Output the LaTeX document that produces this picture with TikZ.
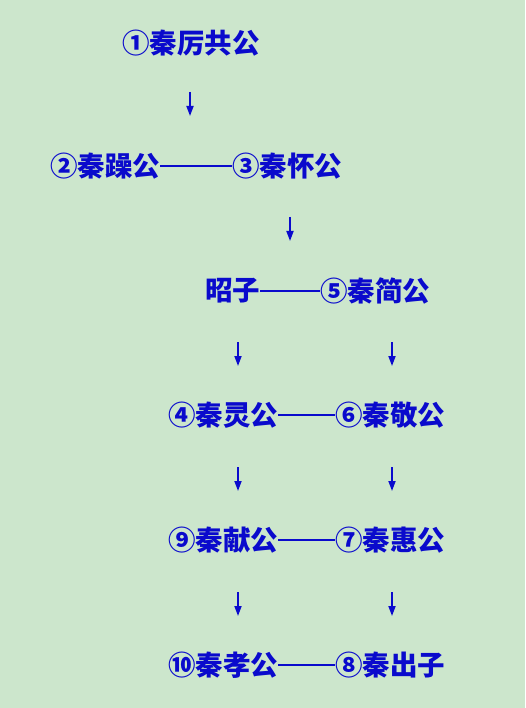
\documentclass[tikz,border=0pt]{standalone}
\usepackage{fontspec}
\newfontfamily\cjk{Noto Sans CJK SC}
\usetikzlibrary{arrows.meta}
\definecolor{bgg}{HTML}{CCE6CC}
\definecolor{tblue}{HTML}{0A0ACC}
\tikzset{
  person/.style={anchor=west,inner sep=0pt,text=tblue,font=\cjk\bfseries\fontsize{27.5}{27.5}\selectfont},
  link/.style={draw=tblue,line width=1.3pt},
  arr/.style={draw=tblue,line width=1.7pt,-{Triangle[width=7pt,length=10pt]}}
}
\begin{document}
\begin{tikzpicture}[x=1pt,y=-1pt]
\fill[bgg] (0,0) rectangle (525,708);
\useasboundingbox (0,0) rectangle (525,708);
\node[person] (n1) at (122,43) {①秦厉共公};
\node[person] (n2) at (50,166) {②秦躁公};
\node[person] (n3) at (232,166) {③秦怀公};
\node[person] (z) at (205,291) {昭子};
\node[person] (n5) at (320,291) {⑤秦简公};
\node[person] (n4) at (168,415) {④秦灵公};
\node[person] (n6) at (335,415) {⑥秦敬公};
\node[person] (n9) at (168,540) {⑨秦献公};
\node[person] (n7) at (335,540) {⑦秦惠公};
\node[person] (n10) at (168,665) {⑩秦孝公};
\node[person] (n8) at (335,665) {⑧秦出子};
\draw[link] (n2.east) -- (n3.west);
\draw[link] (z.east) -- (n5.west);
\draw[link] (n4.east) -- (n6.west);
\draw[link] (n9.east) -- (n7.west);
\draw[link] (n10.east) -- (n8.west);
\coordinate (s1) at (190,92); \coordinate (e1) at (190,116);
\coordinate (s2) at (290,217); \coordinate (e2) at (290,241);
\coordinate (s3) at (238,342); \coordinate (e3) at (238,366);
\coordinate (s4) at (392,342); \coordinate (e4) at (392,366);
\coordinate (s5) at (238,467); \coordinate (e5) at (238,491);
\coordinate (s6) at (392,467); \coordinate (e6) at (392,491);
\coordinate (s7) at (238,592); \coordinate (e7) at (238,616);
\coordinate (s8) at (392,592); \coordinate (e8) at (392,616);
\foreach \i in {1,...,8} {\draw[arr] (s\i) -- (e\i);}
\end{tikzpicture}
\end{document}
